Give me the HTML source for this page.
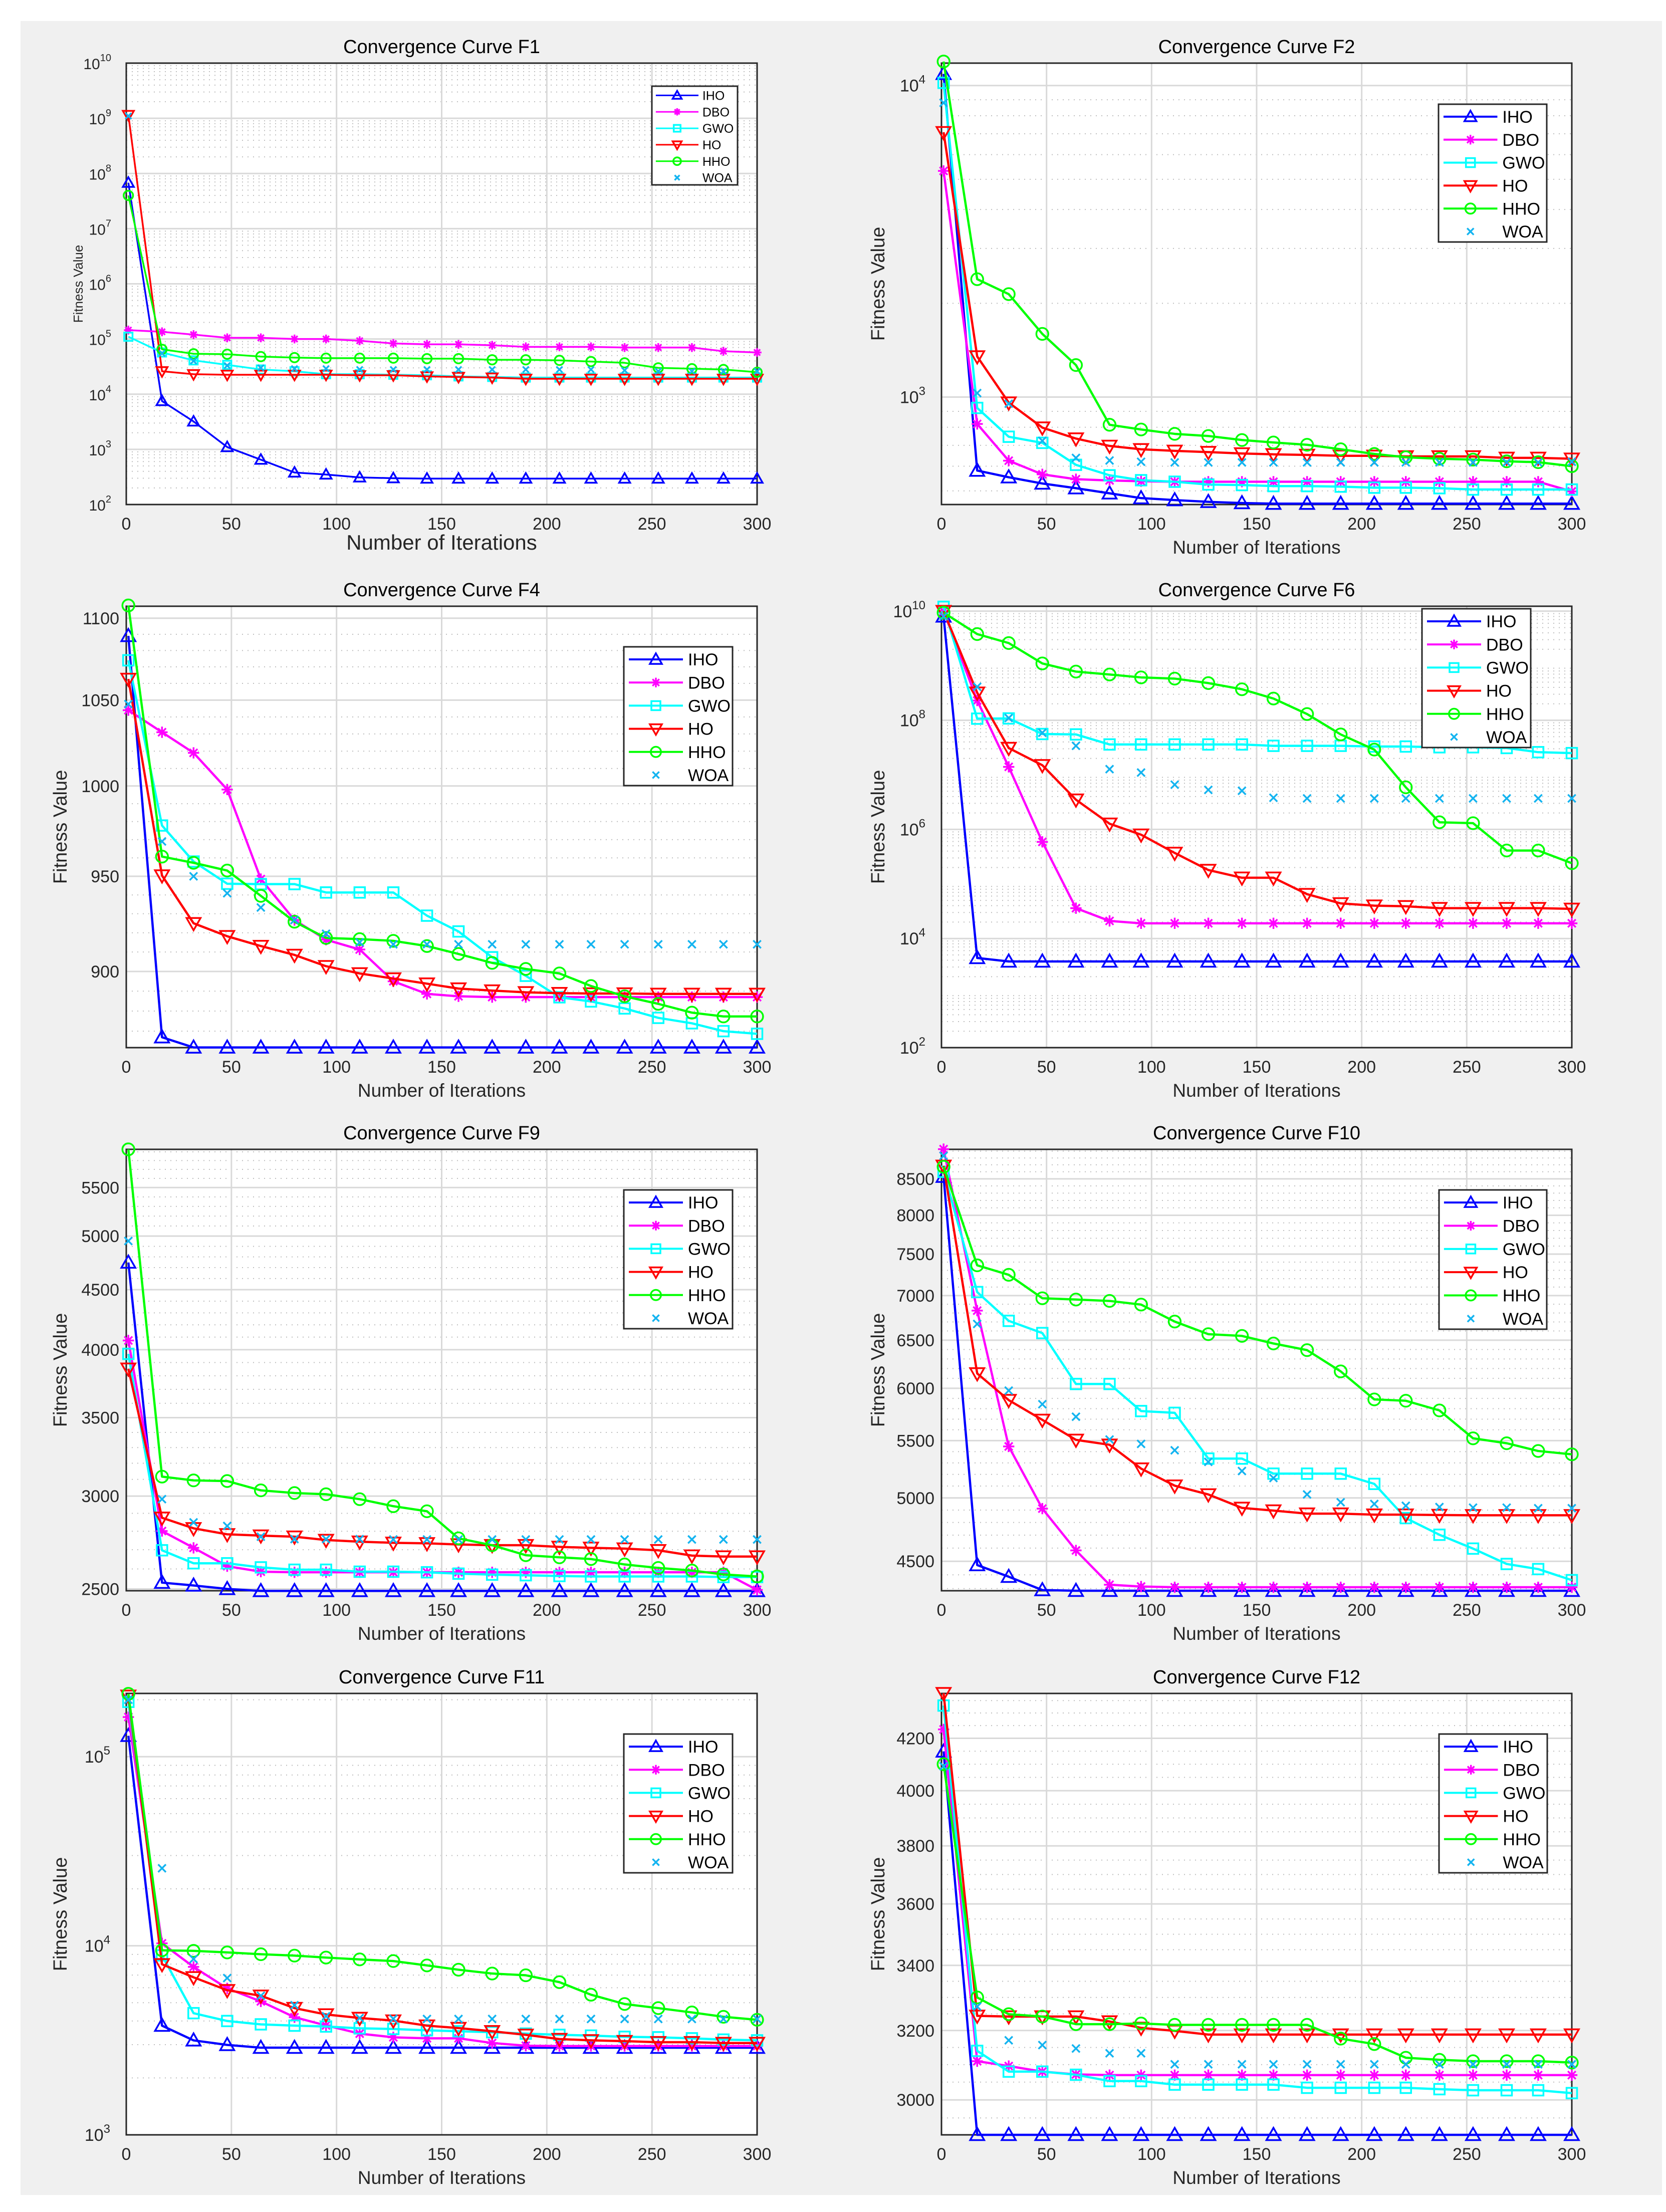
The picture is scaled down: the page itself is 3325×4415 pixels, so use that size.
<!DOCTYPE html>
<html><head><meta charset="utf-8"><title>Convergence Curves</title>
<style>html,body{margin:0;padding:0;background:#fff}svg{display:block}text{font-family:"Liberation Sans",Arial,sans-serif}</style>
</head><body>
<svg id="fig" xmlns="http://www.w3.org/2000/svg" width="3325" height="4415" viewBox="0 0 3325 4415">
<rect x="41" y="42" width="3276" height="4339" fill="#f0f0f0"/>
</svg>
<script>
const iterations=[1,17,32,48,64,80,95,111,127,143,158,174,190,206,221,237,253,269,284,300];
const seriesNames=["IHO","DBO","GWO","HO","HHO","WOA"];
// F1
const f1_IHO=[6.8e7,7.5e3,3.2e3,1.1e3,650,380,350,310,300,295,295,295,295,295,295,295,295,295,295,295];
const f1_DBO=[1.45e5,1.35e5,1.2e5,1.05e5,1.05e5,1e5,1e5,9.3e4,8.3e4,8e4,8e4,7.7e4,7.2e4,7.2e4,7.2e4,7e4,7e4,7e4,6e4,5.7e4];
const f1_GWO=[1.1e5,5.7e4,4.1e4,3.4e4,2.8e4,2.6e4,2.3e4,2.3e4,2.25e4,2.2e4,2.1e4,2.05e4,2e4,2e4,2e4,2e4,2e4,2e4,2e4,2e4];
const f1_HO=[1.15e9,2.6e4,2.3e4,2.25e4,2.25e4,2.25e4,2.25e4,2.2e4,2.2e4,2.1e4,2.05e4,2e4,1.9e4,1.9e4,1.9e4,1.9e4,1.9e4,1.9e4,1.9e4,1.9e4];
const f1_HHO=[4e7,6.5e4,5.4e4,5.3e4,4.8e4,4.6e4,4.5e4,4.5e4,4.5e4,4.4e4,4.4e4,4.2e4,4.2e4,4.1e4,3.9e4,3.7e4,3e4,2.9e4,2.8e4,2.5e4];
const f1_WOA=[1.1e9,5.5e4,4e4,3.3e4,3e4,2.9e4,2.9e4,2.8e4,2.8e4,2.8e4,2.8e4,2.8e4,2.8e4,2.8e4,2.8e4,2.7e4,2.6e4,2.6e4,2.6e4,2.6e4];
// F2
const f2_IHO=[10900,581,553,528,510,491,474,467,461,457,455,455,455,455,455,455,455,455,455,455];
const f2_DBO=[5320,820,625,565,545,540,537,535,535,535,535,535,535,535,535,535,535,535,535,498];
const f2_GWO=[10200,923,746,713,606,561,541,535,524,522,518,518,516,512,512,510,505,505,505,505];
const f2_HO=[7080,1350,960,798,736,697,680,672,666,659,655,652,648,648,645,645,645,638,638,634];
const f2_HHO=[11940,2390,2140,1595,1267,815,787,762,750,728,715,703,680,657,641,634,630,622,618,600];
const f2_WOA=[8800,1030,952,724,638,626,620,617,617,617,617,617,617,617,617,617,617,617,617,620];
// F4
const f4_IHO=[1089,867,862,862,862,862,862,862,862,862,862,862,862,862,862,862,862,862,862,862];
const f4_DBO=[1044,1031,1019,998,948.5,926.7,916.4,911.3,895,888.6,887.4,887,887,887,887,887,887,887,887,887];
const f4_GWO=[1074,977.8,958,946,945.8,945.8,941.3,941.3,941.3,929,920.7,907.3,897.8,886.9,884.8,881.3,876.6,873.9,870,868.7];
const f4_HO=[1062.7,950.4,925,918.2,913.1,908.5,902.7,899,896.4,893.8,891.3,890.3,889.4,889,888.8,888.8,888.6,888.6,888.6,888.6];
const f4_HHO=[1108,960.7,957.3,953.1,939.5,925.8,917.3,916.7,915.8,913.1,909,904.4,901.3,899,892.6,887.4,883.6,879.2,877.3,877.3];
const f4_WOA=[1047.6,969,950,940.9,933.3,926.7,919.5,915,914,914,914,914,914,914,914,914,914,914,914,914];
// F6
const f6_IHO=[8e9,4400,3800,3800,3800,3800,3800,3800,3800,3800,3800,3800,3800,3800,3800,3800,3800,3800,3800,3800];
const f6_DBO=[1e10,2.3e8,1.4e7,5.9e5,3.6e4,2.1e4,1.9e4,1.9e4,1.9e4,1.9e4,1.9e4,1.9e4,1.9e4,1.9e4,1.9e4,1.9e4,1.9e4,1.9e4,1.9e4,1.9e4];
const f6_GWO=[1.2e10,1.07e8,1.08e8,5.6e7,5.5e7,3.6e7,3.6e7,3.6e7,3.6e7,3.6e7,3.4e7,3.4e7,3.4e7,3.3e7,3.3e7,3.2e7,3.2e7,3.1e7,2.6e7,2.5e7];
const f6_HO=[1e10,3.2e8,3.1e7,1.5e7,3.5e6,1.27e6,8e5,3.7e5,1.8e5,1.3e5,1.3e5,6.5e4,4.4e4,4e4,3.9e4,3.6e4,3.6e4,3.6e4,3.6e4,3.5e4];
const f6_HHO=[9.4e9,3.8e9,2.6e9,1.1e9,7.8e8,6.9e8,6.1e8,5.8e8,4.8e8,3.7e8,2.5e8,1.3e8,5.5e7,2.9e7,5.9e6,1.35e6,1.3e6,4.1e5,4.1e5,2.4e5];
const f6_WOA=[8e9,4.1e8,1.1e8,5.9e7,3.4e7,1.27e7,1.1e7,6.6e6,5.3e6,5.1e6,3.8e6,3.7e6,3.7e6,3.7e6,3.7e6,3.7e6,3.7e6,3.7e6,3.7e6,3.7e6];
// F9
const f9_IHO=[4747,2531,2517,2500,2490,2490,2490,2490,2490,2490,2490,2490,2490,2490,2490,2490,2490,2490,2490,2490];
const f9_DBO=[4073,2801,2710,2614,2586,2583,2583,2583,2583,2583,2583,2583,2583,2583,2583,2583,2583,2583,2583,2495];
const f9_GWO=[3967,2697,2629,2629,2608,2596,2596,2586,2586,2583,2576,2571,2568,2564,2562,2562,2562,2562,2559,2559];
const f9_HO=[3853,2875,2816,2783,2776,2770,2752,2743,2737,2734,2728,2724,2724,2715,2710,2706,2697,2669,2664,2664];
const f9_HHO=[5929,3117,3094,3090,3034,3018,3011,2982,2941,2912,2761,2724,2671,2660,2651,2623,2605,2592,2572,2562];
const f9_WOA=[4952,2982,2849,2829,2770,2757,2757,2757,2755,2755,2755,2755,2755,2755,2755,2755,2755,2755,2755,2755];
// F10
const f10_IHO=[8530,4472,4386,4290,4285,4285,4285,4285,4285,4285,4285,4285,4285,4285,4285,4285,4285,4285,4285,4285];
const f10_DBO=[8930,6827,5447,4912,4582,4328,4315,4310,4310,4310,4310,4310,4310,4310,4310,4310,4310,4310,4310,4310];
const f10_GWO=[8600,7041,6712,6577,6043,6043,5777,5760,5338,5338,5206,5206,5206,5118,4835,4703,4596,4480,4442,4361];
const f10_HO=[8686,6150,5883,5693,5507,5462,5250,5103,5029,4918,4896,4871,4871,4863,4863,4860,4858,4858,4858,4858];
const f10_HHO=[8672,7361,7246,6969,6954,6938,6896,6704,6565,6546,6464,6393,6171,5890,5877,5783,5521,5476,5406,5376];
const f10_WOA=[8830,6677,5977,5843,5723,5510,5470,5412,5309,5229,5168,5029,4964,4950,4935,4925,4920,4920,4915,4915];
// F11
const f11_IHO=[1.29e5,3780,3160,2990,2890,2890,2890,2890,2890,2890,2890,2890,2890,2890,2890,2890,2890,2890,2890,2890];
const f11_DBO=[1.62e5,1.03e4,7730,5950,5080,4190,3790,3430,3280,3240,3240,3060,2960,2950,2950,2950,2950,2950,2950,2950];
const f11_GWO=[1.95e5,8900,4400,4000,3840,3780,3740,3660,3630,3570,3530,3490,3430,3380,3350,3300,3280,3240,3190,3160];
const f11_HO=[2.1e5,7980,6810,5820,5440,4680,4330,4150,4020,3780,3670,3530,3380,3210,3160,3130,3090,3090,3060,3060];
const f11_HHO=[2.15e5,9460,9400,9220,9020,8870,8660,8470,8300,7870,7470,7130,6980,6420,5510,4920,4680,4440,4210,4060];
const f11_WOA=[2e5,2.57e4,8510,6750,5440,4850,4240,4150,4110,4100,4100,4100,4100,4100,4100,4100,4100,4100,4100,4100];
// F12
const f12_IHO=[4149,2904,2904,2904,2904,2904,2904,2904,2904,2904,2904,2904,2904,2904,2904,2904,2904,2904,2904,2904];
const f12_DBO=[4235,3110,3096,3080,3072,3070,3070,3070,3070,3070,3070,3070,3070,3070,3070,3070,3070,3070,3070,3070];
const f12_GWO=[4330,3140,3080,3080,3071,3053,3053,3043,3043,3043,3043,3034,3034,3034,3034,3030,3027,3027,3027,3019];
const f12_HO=[4380,3244,3242,3242,3242,3227,3208,3199,3188,3188,3188,3188,3188,3188,3188,3188,3188,3188,3188,3188];
const f12_HHO=[4100,3300,3249,3242,3219,3219,3221,3217,3217,3217,3217,3217,3176,3160,3120,3114,3110,3110,3110,3106];
const f12_WOA=[4092,3272,3171,3157,3147,3133,3133,3101,3101,3101,3101,3101,3101,3101,3101,3101,3101,3101,3101,3101];
// tick label arrays
const xTicks=[0,50,100,150,200,250,300];
const f1_yTicks=[2,3,4,5,6,7,8,9,10];
const f2_yTicks=[3,4];
const f4_yTicks=[900,950,1000,1050,1100];
const f6_yTicks=[2,4,6,8,10];
const f9_yTicks=[2500,3000,3500,4000,4500,5000,5500];
const f10_yTicks=[4500,5000,5500,6000,6500,7000,7500,8000,8500];
const f11_yTicks=[3,4,5];
const f12_yTicks=[3000,3200,3400,3600,3800,4000,4200];

const NS="http://www.w3.org/2000/svg";
const svg=document.getElementById('fig');
const colors={IHO:"#0000ff",DBO:"#ff00ff",GWO:"#00ffff",HO:"#ff0000",HHO:"#00ff00",WOA:"#14b4f0"};
function mk(tag,attrs,parent){const e=document.createElementNS(NS,tag);for(const k in attrs)e.setAttribute(k,attrs[k]);(parent||svg).appendChild(e);return e;}

const L={x0:252,x1:1511},R={x0:1879,x1:3137};
const rows=[[126,1007],[1210,2091],[2294,3175],[3380,4261]];
const panels=[
 {id:"f1",title:"Convergence Curve F1",col:L,row:0,lo:1e2,hi:1e10,decade:true,yt:f1_yTicks,minorStep:0,data:[f1_IHO,f1_DBO,f1_GWO,f1_HO,f1_HHO,f1_WOA],leg:[1301,172,171,197],small:true},
 {id:"f2",title:"Convergence Curve F2",col:R,row:0,lo:452,hi:11800,decade:true,yt:f2_yTicks,data:[f2_IHO,f2_DBO,f2_GWO,f2_HO,f2_HHO,f2_WOA],leg:[2871,208,216,275]},
 {id:"f4",title:"Convergence Curve F4",col:L,row:1,lo:861.9,hi:1107.5,decade:false,yt:f4_yTicks,minorStep:10,data:[f4_IHO,f4_DBO,f4_GWO,f4_HO,f4_HHO,f4_WOA],leg:[1245,1291,217,277]},
 {id:"f6",title:"Convergence Curve F6",col:R,row:1,lo:1e2,hi:1.23e10,decade:true,yt:f6_yTicks,data:[f6_IHO,f6_DBO,f6_GWO,f6_HO,f6_HHO,f6_WOA],leg:[2838,1215,217,277]},
 {id:"f9",title:"Convergence Curve F9",col:L,row:2,lo:2491,hi:5929,decade:false,yt:f9_yTicks,minorStep:100,data:[f9_IHO,f9_DBO,f9_GWO,f9_HO,f9_HHO,f9_WOA],leg:[1245,2375,217,277]},
 {id:"f10",title:"Convergence Curve F10",col:R,row:2,lo:4285,hi:8927,decade:false,yt:f10_yTicks,minorStep:100,data:[f10_IHO,f10_DBO,f10_GWO,f10_HO,f10_HHO,f10_WOA],leg:[2872,2375,215,278]},
 {id:"f11",title:"Convergence Curve F11",col:L,row:3,lo:1e3,hi:2.16e5,decade:true,yt:f11_yTicks,data:[f11_IHO,f11_DBO,f11_GWO,f11_HO,f11_HHO,f11_WOA],leg:[1245,3461,217,277]},
 {id:"f12",title:"Convergence Curve F12",col:R,row:3,lo:2904,hi:4379,decade:false,yt:f12_yTicks,minorStep:50,data:[f12_IHO,f12_DBO,f12_GWO,f12_HO,f12_HHO,f12_WOA],leg:[2872,3461,216,277]}
];

function marker(g,type,cx,cy,s,col,sw){
 let e;
 if(type==="IHO"){e=mk('path',{d:`M${cx} ${cy-s} L${cx+s} ${cy+s*0.75} L${cx-s} ${cy+s*0.75} Z`,fill:'none',stroke:col,'stroke-width':sw},g);}
 else if(type==="HO"){e=mk('path',{d:`M${cx} ${cy+s} L${cx+s} ${cy-s*0.75} L${cx-s} ${cy-s*0.75} Z`,fill:'none',stroke:col,'stroke-width':sw},g);}
 else if(type==="GWO"){e=mk('rect',{x:cx-s*0.75,y:cy-s*0.75,width:s*1.5,height:s*1.5,fill:'none',stroke:col,'stroke-width':sw},g);}
 else if(type==="HHO"){e=mk('circle',{cx:cx,cy:cy,r:s*0.85,fill:'none',stroke:col,'stroke-width':sw},g);}
 else if(type==="DBO"){const r=s*0.8;e=mk('path',{d:`M${cx-r} ${cy}H${cx+r}M${cx} ${cy-r}V${cy+r}M${cx-r*0.7} ${cy-r*0.7}L${cx+r*0.7} ${cy+r*0.7}M${cx-r*0.7} ${cy+r*0.7}L${cx+r*0.7} ${cy-r*0.7}`,stroke:col,'stroke-width':sw,fill:'none'},g);}
 else {const r=s*0.55;e=mk('path',{d:`M${cx-r} ${cy-r}L${cx+r} ${cy+r}M${cx-r} ${cy+r}L${cx+r} ${cy-r}`,stroke:col,'stroke-width':sw,fill:'none'},g);}
 
 
 return e;
}

panels.forEach(p=>{
 const x0=p.col.x0,x1=p.col.x1,y0=rows[p.row][0],y1=rows[p.row][1];
 const lg=Math.log10;
 const X=v=>x0+(v/300)*(x1-x0);
 const Y=v=>y1-(lg(v)-lg(p.lo))/(lg(p.hi)-lg(p.lo))*(y1-y0);
 const g=mk('g',{});
 
 
 const bg=mk('rect',{x:x0,y:y0,width:x1-x0,height:y1-y0,fill:'#fff'},g);
 
 
 // minor grid
 let minors=[];
 if(p.decade){for(let n=Math.floor(lg(p.lo));n<=Math.ceil(lg(p.hi));n++)for(let k=2;k<=9;k++){const v=k*Math.pow(10,n);if(v>p.lo&&v<p.hi)minors.push(v);}}
 else{for(let v=Math.ceil(p.lo/p.minorStep)*p.minorStep;v<p.hi;v+=p.minorStep)minors.push(v);}
 minors.forEach(v=>{const ln=mk('line',{x1:x0,x2:x1,y1:Y(v),y2:Y(v),stroke:'#bdbdbd','stroke-width':2,'stroke-dasharray':'2,9'},g);
  
  });
 // major grid
 const yv=p.decade?p.yt.map(n=>Math.pow(10,n)):p.yt;
 yv.forEach(v=>{const ln=mk('line',{x1:x0,x2:x1,y1:Y(v),y2:Y(v),stroke:'#d9d9d9','stroke-width':3},g);
  
  });
 xTicks.forEach(v=>{const ln=mk('line',{x1:X(v),x2:X(v),y1:y0,y2:y1,stroke:'#d9d9d9','stroke-width':3},g);
  
  
  const t=mk('text',{x:X(v),y:y1+50,'text-anchor':'middle','font-size':34,fill:'#262626'},g);t.textContent=v;
  
  });
 // y tick labels
 p.yt.forEach((n,i)=>{const v=yv[i];const t=mk('text',{x:x0-14,y:Y(v)+12,'text-anchor':'end','font-size':p.small?30:34,fill:'#262626'},g);
  
  
  if(p.decade){t.setAttribute('x',x0-(p.small?30:32));t.textContent='10';const s=mk('tspan',{dy:-16,'font-size':p.small?20:24},t);s.textContent=n;}
  else t.textContent=n;});
 // axes box
 const box=mk('rect',{x:x0,y:y0,width:x1-x0,height:y1-y0,fill:'none',stroke:'#262626','stroke-width':3},g);
 
 
 // series
 p.data.forEach((arr,si)=>{
  const nm=seriesNames[si],col=colors[nm];
  const sg=mk('g',{},g);
  
  
  if(nm!=="WOA"){const pts=arr.map((v,i)=>X(iterations[i])+','+Y(v)).join(' ');
   const pl=mk('polyline',{points:pts,fill:'none',stroke:col,'stroke-width':p.small?3.5:4.5,'stroke-linejoin':'round'},sg);
   
   }
  arr.forEach((v,i)=>marker(sg,nm,X(iterations[i]),Y(v),p.small?11:14,col,3.5));
 });
 // title & labels
 const tt=mk('text',{x:(x0+x1)/2,y:y0-20,'text-anchor':'middle','font-size':38,fill:'#000'},g);tt.textContent=p.title;
 
 
 const xl=mk('text',{x:(x0+x1)/2,y:y1+(p.small?90:98),'text-anchor':'middle','font-size':p.small?42:37,fill:'#262626'},g);xl.textContent='Number of Iterations';
 
 
 const lx=p.col===L?(p.small?165:133):1765,ly=(y0+y1)/2;
 const yl=mk('text',{x:lx,y:ly,'text-anchor':'middle','font-size':p.small?26:38,fill:'#262626',transform:`rotate(-90 ${lx} ${ly})`},g);yl.textContent='Fitness Value';
 
 
 // legend
 const [lxx,lyy,lw,lh]=p.leg;
 const lgG=mk('g',{},g);
 
 
 mk('rect',{x:lxx,y:lyy,width:lw,height:lh,fill:'#fff',stroke:'#262626','stroke-width':3},lgG);
 const rh=lh/6,sc=lw/217;
 seriesNames.forEach((nm,i)=>{
  const cy=lyy+rh*(i+0.5)+2,col=colors[nm];
  const eg=mk('g',{},lgG);
  
  
  if(nm!=="WOA"){mk('line',{x1:lxx+10*sc,x2:lxx+118*sc,y1:cy,y2:cy,stroke:col,'stroke-width':p.small?3:4},eg);}
  marker(eg,nm,lxx+64*sc,cy,p.small?9:12,col,3.5);
  const t=mk('text',{x:lxx+128*sc,y:cy+(p.small?9:12),'font-size':p.small?25:34,fill:'#000'},eg);t.textContent=nm;
 });
});
</script>
</body></html>
